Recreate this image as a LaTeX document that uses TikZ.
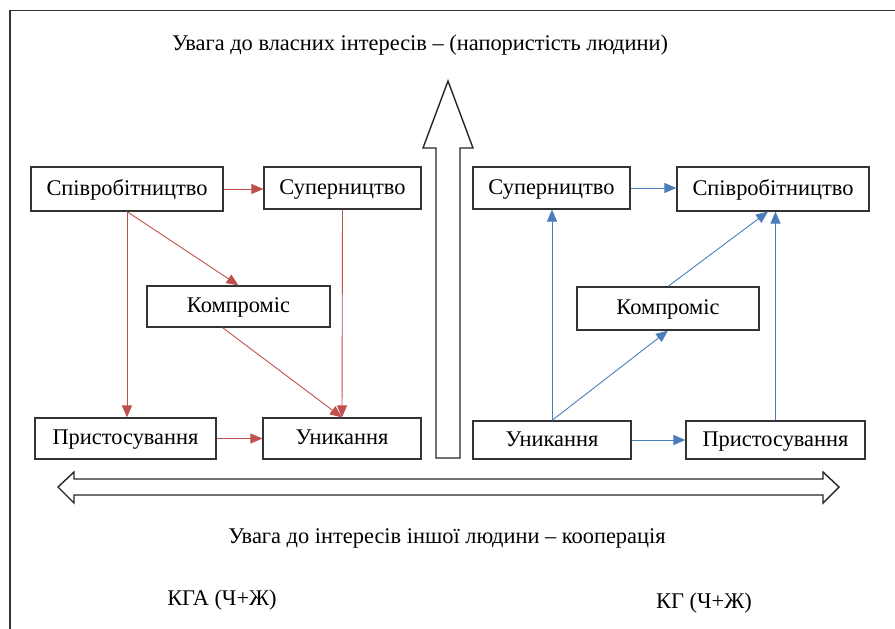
\documentclass[tikz,border=0pt]{standalone}
\usepackage{fontspec}
\setmainfont{Liberation Serif}
\usepackage{xcolor}
\usetikzlibrary{arrows.meta, positioning, calc}

\definecolor{redline}{HTML}{C0504D}
\definecolor{blueline}{HTML}{4A7EBB}

\begin{document}
\begin{tikzpicture}[
    x=1pt,
    y=-1pt,
    font=\fontsize{22.4}{26}\selectfont,
    block/.style={
        rectangle,
        draw=black!80,
        line width=1.2pt,
        fill=white,
        minimum height=42pt,
        text height=16pt,
        text depth=4pt,
        inner sep=0pt
    },
    label/.style={
        inner sep=0pt
    },
    redarrow/.style={
        draw=redline,
        line width=0.9pt,
        -{Triangle[length=12pt,width=10pt]}
    },
    bluearrow/.style={
        draw=blueline,
        line width=0.9pt,
        -{Triangle[length=12pt,width=10pt]}
    },
    bigarrow/.style={
        draw=black!85,
        line width=1.4pt,
        fill=white,
        line join=miter
    }
]
\useasboundingbox (0,0) rectangle (895,629);

% Frame
\draw [black!80, line width=1.2pt] (10,629) -- (10,10.5) -- (895,10.5);

% Axes
\draw [bigarrow] (436,458) -- (436,148) -- (423,148) -- (448,81) -- (473,148)
    -- (460,148) -- (460,458) -- cycle;
\draw [bigarrow] (58,487) -- (74,472) -- (74,479) -- (823,479) -- (823,472)
    -- (839,487) -- (823,503) -- (823,495) -- (74,495) -- (74,503) -- cycle;

% Labels
\node [label] (selfaxis) at (420,45) {Увага до власних інтересів – (напористість людини)};
\node [label] (otheraxis) at (447,538) {Увага до інтересів іншої людини – кооперація};
\node [label] (groupKGA) at (222,600) {КГА (Ч+Ж)};
\node [label] (groupKG) at (704,603) {КГ (Ч+Ж)};

% Nodes - left scheme
\node [block, minimum width=192pt, minimum height=44pt] (coopL) at (127,189) {Співробітництво};
\node [block, minimum width=157pt] (rivalL) at (342.5,188) {Суперництво};
\node [block, minimum width=183pt, minimum height=41pt] (compL) at (238.5,306.5) {Компроміс};
\node [block, minimum width=181pt, minimum height=41pt] (accomL) at (125.5,438.5) {Пристосування};
\node [block, minimum width=158pt, minimum height=41pt] (avoidL) at (342,438.5) {Уникання};

% Nodes - right scheme
\node [block, minimum width=157pt] (rivalR) at (551.5,188) {Суперництво};
\node [block, minimum width=192pt, minimum height=44pt] (coopR) at (773,189) {Співробітництво};
\node [block, minimum width=182pt, minimum height=43pt] (compR) at (668,308.5) {Компроміс};
\node [block, minimum width=158pt, minimum height=38pt] (avoidR) at (552,440) {Уникання};
\node [block, minimum width=179pt, minimum height=38pt] (accomR) at (775.5,440) {Пристосування};

% Paths - left
\path [redarrow] (coopL.east) -- (coopL.east -| rivalL.west);
\path [redarrow] (coopL.south) -- (coopL.south |- accomL.north);
\path [redarrow] (coopL.south) -- (compL.north);
\path [redarrow] (rivalL.south) -- (avoidL.north);
\path [redarrow] ([xshift=-16pt]compL.south) -- (avoidL.north);
\path [redarrow] (accomL.east) -- (avoidL.west);

% Paths - right
\path [bluearrow] (rivalR.east) -- (rivalR.east -| coopR.west);
\path [bluearrow] (avoidR.north) -- (avoidR.north |- rivalR.south);
\path [bluearrow] (avoidR.north) -- (compR.south);
\path [bluearrow] (compR.north) -- ([xshift=-5pt]coopR.south);
\path [bluearrow] (accomR.north) -- (accomR.north |- coopR.south);
\path [bluearrow] (avoidR.east) -- (avoidR.east -| accomR.west);

\end{tikzpicture}
\end{document}
